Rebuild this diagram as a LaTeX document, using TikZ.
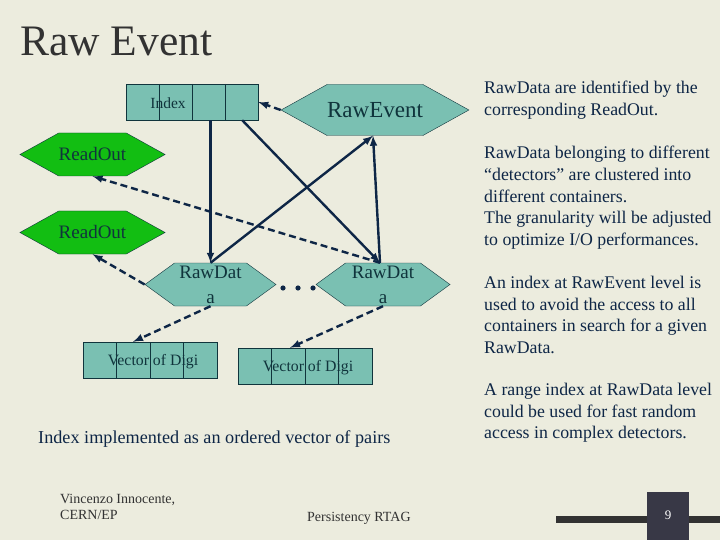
\documentclass[tikz,border=0pt]{standalone}
\usepackage{fontspec}
\setmainfont{Liberation Serif}
\usetikzlibrary{arrows,shapes.symbols}
\definecolor{slidebg}{RGB}{236,236,222}
\definecolor{tealfill}{RGB}{122,192,178}
\definecolor{greenfill}{RGB}{18,190,18}
\definecolor{navy}{RGB}{14,38,70}
\definecolor{darkline}{RGB}{16,52,60}
\definecolor{titlegray}{RGB}{50,50,50}
\definecolor{pagebox}{RGB}{56,56,70}
\tikzset{
	hexa/.style={signal, signal to=west and east, draw=darkline, inner sep=0pt},
	cellbox/.style={draw=darkline, fill=tealfill, inner sep=0pt},
	link/.style={-latex, line width=2.4pt, draw=navy},
	dlink/.style={-latex, line width=2.4pt, draw=navy, dash pattern=on 7pt off 4pt},
	note/.style={anchor=north west, align=left, inner sep=0pt, text=navy,
		font=\fontsize{17.8}{21.7}\selectfont}
}
\begin{document}
\begin{tikzpicture}[x=1pt,y=-1pt]
			\useasboundingbox (0,0) rectangle (720,540);
			\fill[slidebg] (0,0) rectangle (720,540);

			\node[anchor=base west, inner sep=0pt, text=titlegray, font=\fontsize{43.5}{43.5}\selectfont] (title) at (20,56) {Raw Event};

			\node[cellbox, minimum width=132pt, minimum height=36pt] (idx) at (192,102) {};
			\foreach \i in {1,2,3}
			\draw[darkline] (126+33*\i,84) -- (126+33*\i,120);
			\node[text=darkline, font=\fontsize{15.5}{15.5}\selectfont] (idxtext) at (168,103) {Index};

			\node[hexa, fill=tealfill, minimum width=184pt, minimum height=51pt, signal pointer angle=58,
				text=darkline, font=\fontsize{23}{23}\selectfont] (rawevent) at (375,110) {RawEvent};

			\node[hexa, fill=greenfill, minimum width=139pt, minimum height=43pt, signal pointer angle=58,
				text=darkline, font=\fontsize{19}{19}\selectfont] (readout1) at (92.5,154.5) {ReadOut};
			\node[hexa, fill=greenfill, minimum width=139pt, minimum height=43pt, signal pointer angle=58,
				text=darkline, font=\fontsize{19}{19}\selectfont] (readout2) at (92.5,232.5) {ReadOut};

			\node[hexa, fill=tealfill, minimum width=131pt, minimum height=43pt, signal pointer angle=72,
				align=center, text=darkline, font=\fontsize{19}{25}\selectfont] (rawdataL) at (210.5,284.5) {RawDat\\a};
			\node[hexa, fill=tealfill, minimum width=134pt, minimum height=43pt, signal pointer angle=72,
				align=center, text=darkline, font=\fontsize{19}{25}\selectfont] (rawdataR) at (383,284.5) {RawDat\\a};

			\foreach \x in {283,298,313}
			\fill[navy] (\x,288) circle (2.6pt);

			\node[cellbox, minimum width=134pt, minimum height=36pt] (vecL) at (150,360) {};
			\foreach \i in {1,2,3}
			\draw[darkline] (83+33.5*\i,342) -- (83+33.5*\i,378);
			\node[text=darkline, font=\fontsize{15.8}{15.8}\selectfont] (vecLtext) at (153,362) {Vector of Digi};

			\node[cellbox, minimum width=134pt, minimum height=36pt] (vecR) at (305,366) {};
			\foreach \i in {1,2,3}
			\draw[darkline] (238+33.5*\i,348) -- (238+33.5*\i,384);
			\node[text=darkline, font=\fontsize{15.8}{15.8}\selectfont] (vecRtext) at (308,368) {Vector of Digi};

			\draw[dlink] (rawevent.west) -- (idx.east);
			\draw[link] (rawdataL.north |- idx.south) -- (rawdataL.north);
			\draw[link] ([xshift=-16pt]idx.south east) -- ([xshift=-3pt]rawdataR.north);
			\draw[link] (rawdataL.north) -- ([xshift=-2pt]rawevent.south);
			\draw[link] ([xshift=-3pt]rawdataR.north) -- ([xshift=-2pt]rawevent.south);
			\draw[dlink] ([xshift=-3pt]rawdataR.north) -- (readout1.south);
			\draw[dlink] (rawdataL.west) -- (readout2.south);
			\draw[dlink] (rawdataL.south) -- ([xshift=-17pt]vecL.north);
			\draw[dlink] (rawdataR.south) -- ([xshift=-15pt]vecR.north);

			\node[note] (note1) at (484,81) {RawData are identified by the\\corresponding ReadOut.};
			\node[note] (note2) at (484,146) {RawData belonging to different\\``detectors'' are clustered into\\different containers.\\The granularity will be adjusted\\to optimize I/O performances.};
			\node[note] (note3) at (484,276) {An index at RawEvent level is\\used to avoid the access to all\\containers in search for a given\\RawData.};
			\node[note] (note4) at (484,383) {A range index at RawData level\\could be used for fast random\\access in complex detectors.};

			\node[anchor=base west, inner sep=0pt, text=navy, font=\fontsize{18.2}{18.2}\selectfont] (caption) at (38,443) {Index implemented as an ordered vector of pairs};

			\node[anchor=north west, align=left, inner sep=0pt, text=titlegray, font=\fontsize{14}{16}\selectfont] (author) at (60,494) {Vincenzo Innocente,\\CERN/EP};
			\node[anchor=base west, inner sep=0pt, text=titlegray, font=\fontsize{14}{16}\selectfont] (meeting) at (307,521) {Persistency RTAG};

			\fill[titlegray] (556,516) rectangle (720,523);
			\fill[pagebox] (647,492) rectangle (689,540);
			\node[text=white, font=\fontsize{13}{13}\selectfont] (pagenum) at (668,515) {9};
		\end{tikzpicture}
\end{document}
